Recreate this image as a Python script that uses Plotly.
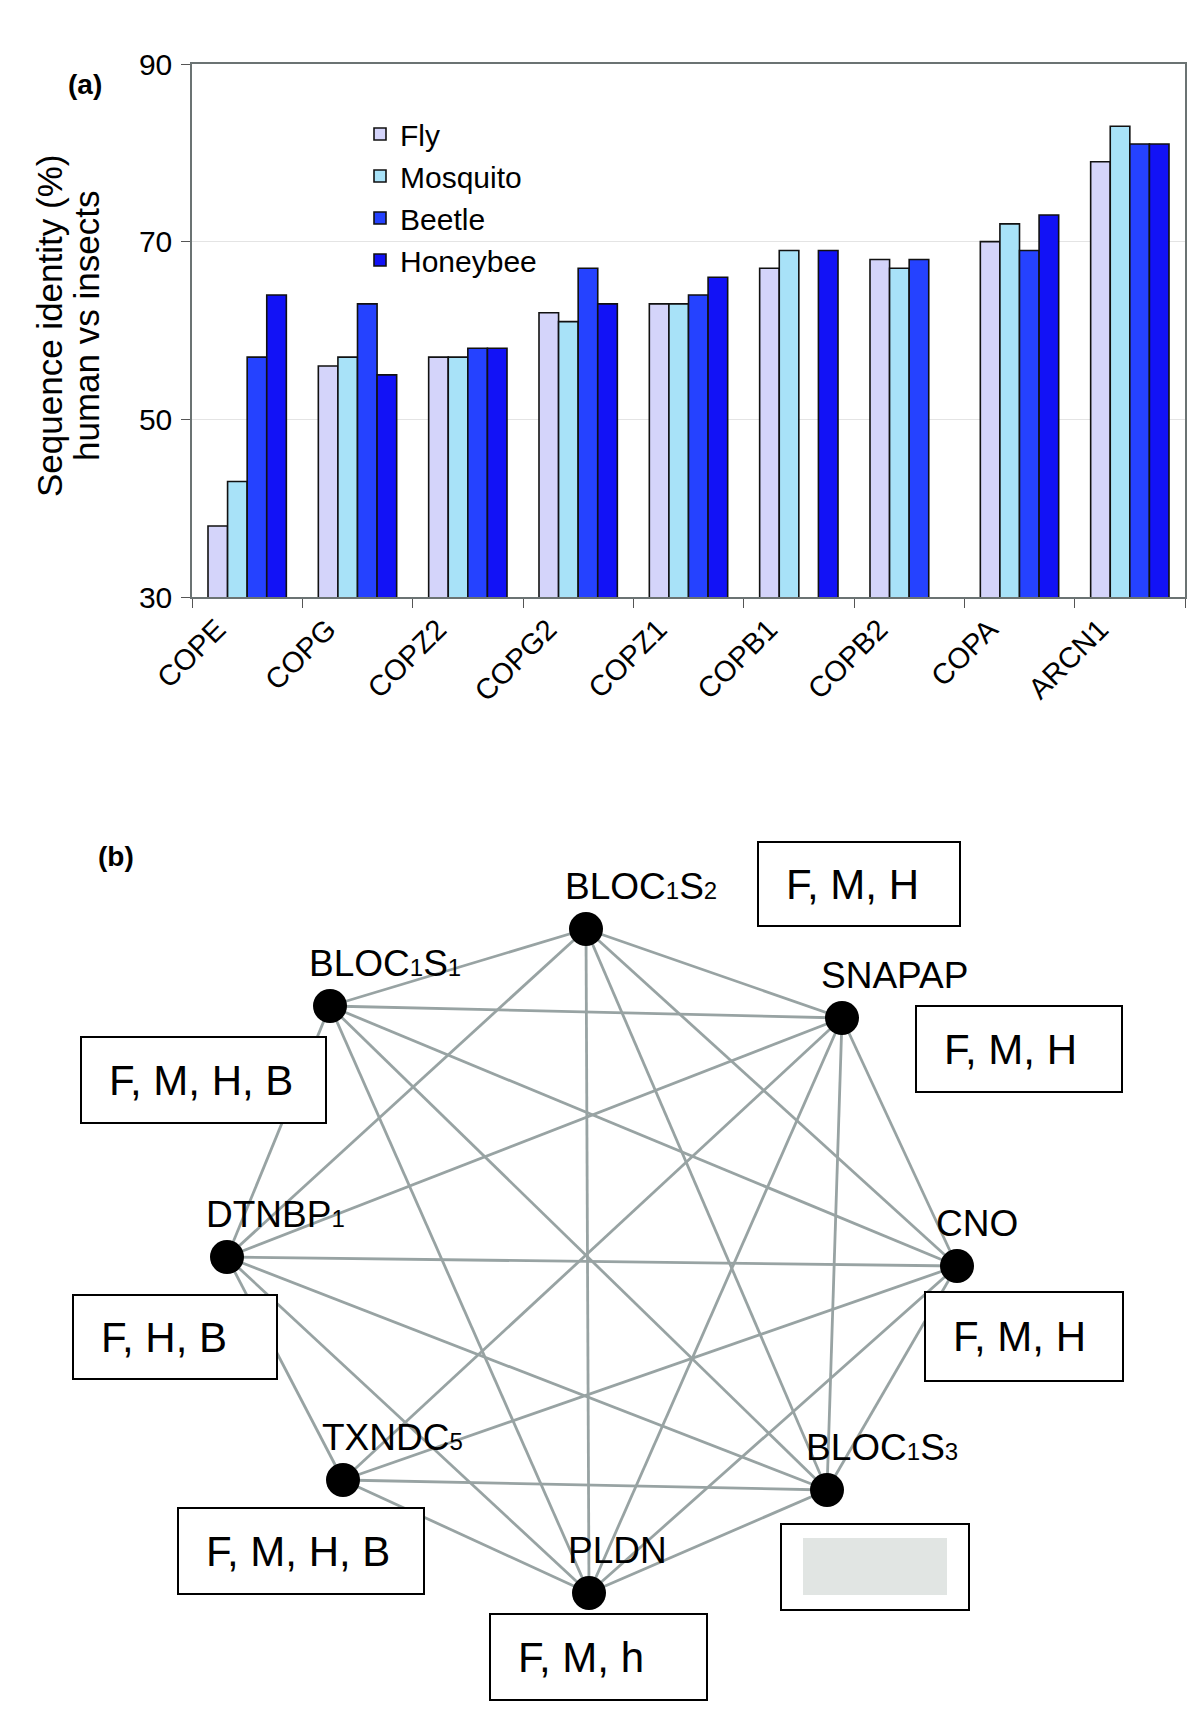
"""Two-panel figure: sequence identity bar chart (a) and BLOC-1 interaction network (b)."""

import re

import plotly.graph_objects as go

W, H = 1200, 1720
FONT = "Liberation Sans, Arial, sans-serif"

# ---- panel (a) data ----
genes = ["COPE", "COPG", "COPZ2", "COPG2", "COPZ1", "COPB1", "COPB2", "COPA", "ARCN1"]
fly = [38, 56, 57, 62, 63, 67, 68, 70, 79]
mosquito = [43, 57, 57, 61, 63, 69, 67, 72, 83]
beetle = [57, 63, 58, 67, 64, None, 68, 69, 81]
honeybee = [64, 55, 58, 63, 66, 69, None, 73, 81]
y_ticks = [30, 50, 70, 90]

# ---- panel (b) data ----
node_names = ["BLOC1S2", "BLOC1S1", "SNAPAP", "DTNBP1", "CNO", "TXNDC5", "BLOC1S3", "PLDN"]
node_x = [578, 322, 834, 219, 949, 335, 819, 581]
node_y = [921, 998, 1010, 1249, 1258, 1472, 1482, 1585]
species = ["F, M, H", "F, M, H, B", "F, M, H", "F, H, B", "F, M, H", "F, M, H, B", "", "F, M, h"]
missing_edges = [(0, 5), (1, 5)]

# box layout for the species labels (x0, x1, y0, y1 in panel pixels)
boxes = [
    (750, 952, 834, 918),
    (73, 318, 1029, 1115),
    (908, 1114, 998, 1084),
    (65, 269, 1287, 1371),
    (917, 1115, 1284, 1373),
    (170, 416, 1500, 1586),
    (773, 961, 1516, 1602),
    (482, 699, 1606, 1692),
]

bar_colors = {"Fly": "#d4d4fa", "Mosquito": "#a8e2f8", "Beetle": "#2542ff", "Honeybee": "#1212f6"}

fig = go.Figure()

for name, vals in [("Fly", fly), ("Mosquito", mosquito), ("Beetle", beetle), ("Honeybee", honeybee)]:
    fig.add_trace(go.Bar(
        x=genes, y=vals, name=name,
        marker=dict(color=bar_colors[name], line=dict(color="#111111", width=1.6)),
        xaxis="x", yaxis="y",
    ))

# network edges (complete graph minus a few)
n = len(node_names)
ex, ey = [], []
for i in range(n):
    for j in range(i + 1, n):
        if (i, j) in missing_edges:
            continue
        ex += [node_x[i], node_x[j], None]
        ey += [node_y[i], node_y[j], None]

fig.add_trace(go.Scatter(
    x=ex, y=ey, mode="lines", line=dict(color="#98a3a3", width=2.8),
    hoverinfo="skip", showlegend=False, xaxis="x2", yaxis="y2",
))
fig.add_trace(go.Scatter(
    x=node_x, y=node_y, mode="markers", text=node_names,
    marker=dict(color="black", size=34), showlegend=False,
    xaxis="x2", yaxis="y2",
))


def small_digits(name):
    return re.sub(r"(\d)", r"<span style='font-size:24px'>\1</span>", name)


annotations = [
    dict(text="<b>(a)</b>", x=77 / W, y=1 - 77 / H, font=dict(size=28)),
    dict(text="<b>(b)</b>", x=108 / W, y=1 - 848 / H, font=dict(size=28)),
    dict(text="Sequence identity (%)", x=42 / W, y=1 - 318 / H, textangle=-90, font=dict(size=35)),
    dict(text="human vs insects", x=79 / W, y=1 - 318 / H, textangle=-90, font=dict(size=35)),
]
for a in annotations:
    a.update(xref="paper", yref="paper", showarrow=False, xanchor="center", yanchor="middle")
    a["font"].update(family=FONT, color="black")

for name, x, y in zip(node_names, node_x, node_y):
    annotations.append(dict(
        text=small_digits(name), x=x, y=y, xref="x2", yref="y2",
        xanchor="left", yanchor="bottom", xshift=-22, yshift=21, borderpad=0,
        showarrow=False, font=dict(family=FONT, size=37, color="black"),
    ))

shapes = []
for label, (x0, x1, y0, y1) in zip(species, boxes):
    shapes.append(dict(
        type="rect", xref="x2", yref="y2", x0=x0, x1=x1, y0=y0, y1=y1,
        line=dict(color="black", width=2), fillcolor="white", layer="above",
    ))
    if label:
        annotations.append(dict(
            text=label, x=x0, y=(y0 + y1) / 2, xref="x2", yref="y2",
            xanchor="left", yanchor="middle", xshift=26, showarrow=False,
            font=dict(family=FONT, size=42, color="black"),
        ))
    else:
        shapes.append(dict(
            type="rect", xref="x2", yref="y2", x0=x0 + 22, x1=x1 - 22, y0=y0 + 14, y1=y1 - 15,
            line=dict(width=0), fillcolor="#e1e5e3", layer="above",
        ))

fig.update_layout(
    width=W, height=H, autosize=False,
    margin=dict(l=0, r=0, t=0, b=0),
    paper_bgcolor="white", plot_bgcolor="white",
    font=dict(family=FONT, color="black"),
    barmode="group", bargap=0.29, bargroupgap=0,
    xaxis=dict(
        domain=[184 / W, 1177 / W], anchor="y", type="category",
        tickson="boundaries", ticks="outside", ticklen=9, tickcolor="#555555",
        tickangle=-45, tickfont=dict(size=29, color="black"),
        ticklabelshift=-30, ticklabelstandoff=2,
        showline=True, linecolor="#6b7373", linewidth=1.5, mirror=True,
        showgrid=False, automargin=False,
    ),
    yaxis=dict(
        domain=[1 - 589 / H, 1 - 56 / H], anchor="x", range=[30, 90],
        tickvals=y_ticks, ticks="outside", ticklen=9, tickcolor="#555555",
        tickfont=dict(size=30, color="black"), ticklabelstandoff=3,
        showline=True, linecolor="#6b7373", linewidth=1.5, mirror=True,
        gridcolor="#e4e4e4", gridwidth=1, zeroline=False, automargin=False,
    ),
    xaxis2=dict(domain=[0, 1], range=[0, W], visible=False, anchor="y2", fixedrange=True),
    yaxis2=dict(domain=[0, 0.6], range=[H, H * 0.4], visible=False, anchor="x2", fixedrange=True),
    legend=dict(
        x=352 / W, y=1 - 100 / H, xanchor="left", yanchor="top",
        font=dict(size=30, color="black"), bgcolor="rgba(0,0,0,0)",
        tracegroupgap=0, itemwidth=30,
    ),
    annotations=annotations,
    shapes=shapes,
)

fig.write_html("out.html")
